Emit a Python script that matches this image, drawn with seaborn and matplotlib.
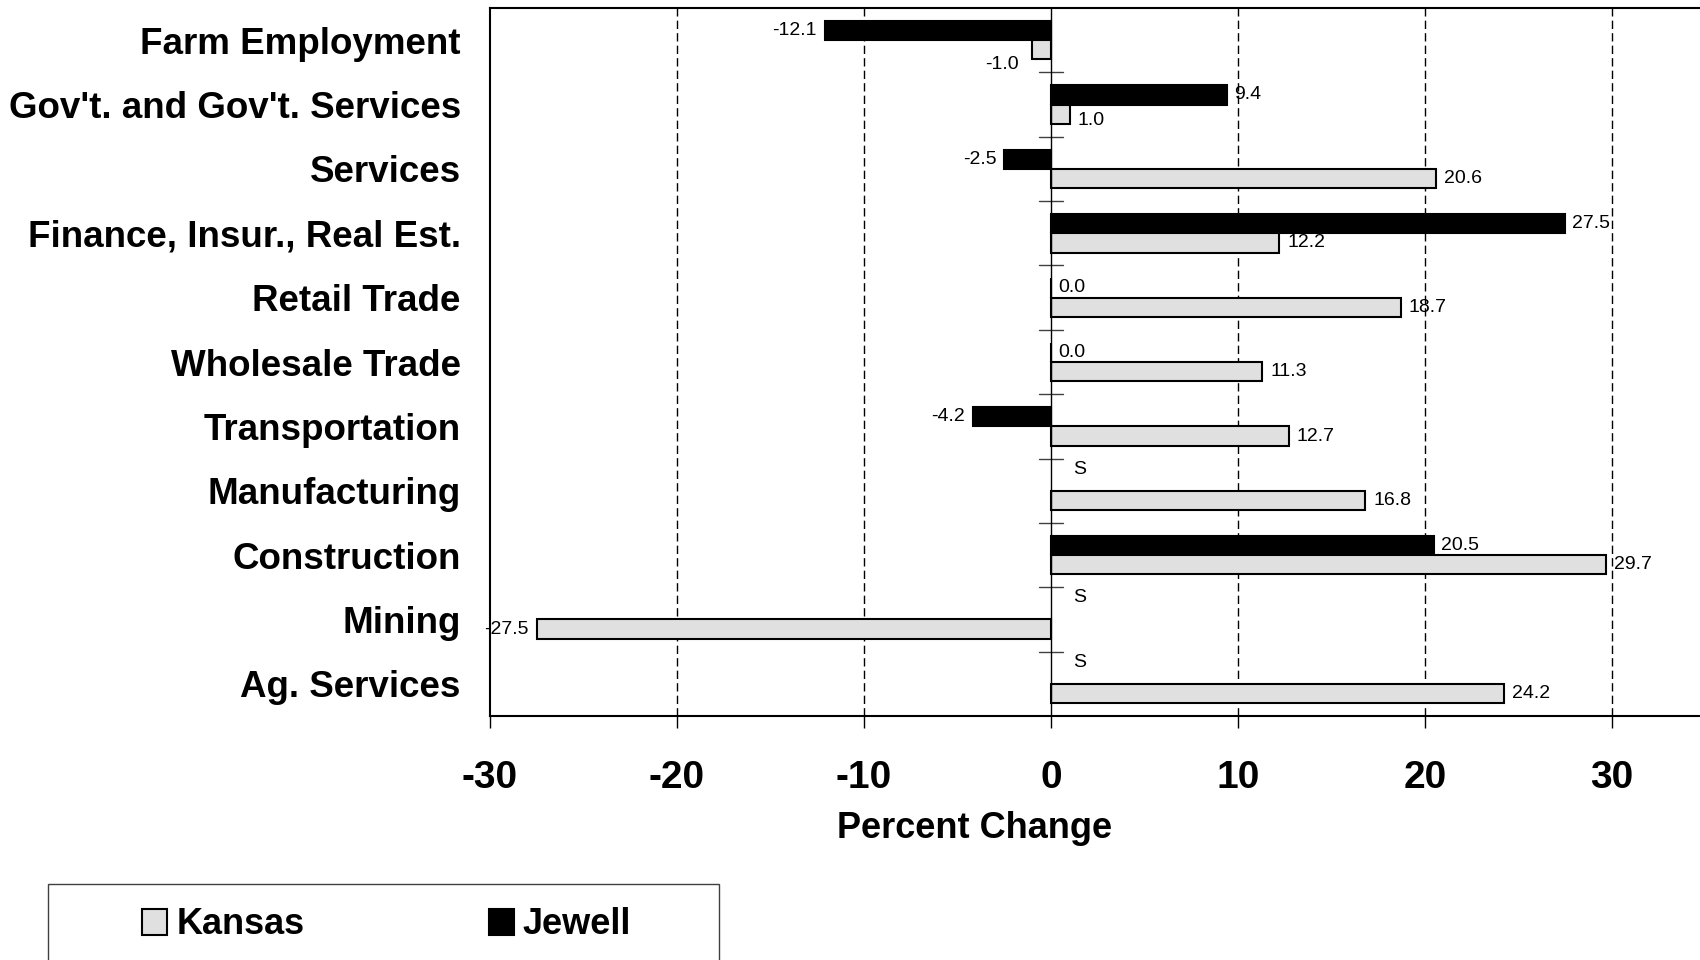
import matplotlib
matplotlib.use("Agg")
import matplotlib.pyplot as plt
import seaborn as sns
import pandas as pd
import numpy as np
from matplotlib.patches import Patch, Rectangle

# ---------------- data ----------------
categories = ["Farm Employment", "Gov't. and Gov't. Services", "Services",
              "Finance, Insur., Real Est.", "Retail Trade", "Wholesale Trade",
              "Transportation", "Manufacturing", "Construction", "Mining",
              "Ag. Services"]
kansas = [-1.0, 1.0, 20.6, 12.2, 18.7, 11.3, 12.7, 16.8, 29.7, -27.5, 24.2]
jewell = [-12.1, 9.4, -2.5, 27.5, 0.0, 0.0, -4.2, None, 20.5, None, None]
series_names = ["Kansas", "Jewell"]
x_ticks = [-30, -20, -10, 0, 10, 20, 30]
x_label = "Percent Change"
suppressed_label = "S"

# ---------------- style ----------------
sns.set_style("white")
plt.rcParams["font.family"] = ["Liberation Sans", "DejaVu Sans"]
plt.rcParams["text.color"] = "black"
plt.rcParams["xtick.color"] = "black"
plt.rcParams["ytick.color"] = "black"
plt.rcParams["axes.labelcolor"] = "black"

colors = {"Kansas": "#e0e0e0", "Jewell": "#000000"}

rows = []
for c, k, j in zip(categories, kansas, jewell):
    rows.append({"category": c, "series": "Kansas", "value": np.nan if k is None else k})
    rows.append({"category": c, "series": "Jewell", "value": np.nan if j is None else j})
df = pd.DataFrame(rows).dropna()

W, H = 1700, 960
fig = plt.figure(figsize=(W / 100, H / 100), dpi=100)
ax = fig.add_axes([490 / W, 1 - 716 / H, (W - 490) / W, (716 - 8) / H])

sns.barplot(data=df, x="value", y="category", hue="series", order=categories,
            hue_order=["Jewell", "Kansas"], palette=colors, orient="h",
            width=0.6, edgecolor="black", linewidth=1.5, errorbar=None,
            saturation=1, legend=False, ax=ax, zorder=3)

n = len(categories)
ax.set_ylim(n - 0.5, -0.5)
ax.set_xlim(-30, 34.7)

# grid / zero line
for t in x_ticks:
    if t == 0:
        ax.axvline(t, color="black", lw=1.0, zorder=4)
    elif t != x_ticks[0]:
        ax.axvline(t, color="black", lw=1.0, ls=(0, (6, 3)), zorder=1)

# category separators on the zero line
for i in range(n - 1):
    ax.plot([-0.65, 0.65], [i + 0.5, i + 0.5], color="#404040", lw=1, zorder=2)

# value labels
lab_kw = dict(textcoords="offset pixels", fontsize=14, color="black", zorder=5)
for i, (k, j) in enumerate(zip(kansas, jewell)):
    yj, yk = i - 0.15, i + 0.15
    if j is None:
        ax.annotate(suppressed_label, xy=(0, yj), xytext=(29, 12), ha="center", va="center", **lab_kw)
    elif j >= 0:
        ax.annotate(f"{j:.1f}", xy=(j, yj), xytext=(7, 0), ha="left", va="center", **lab_kw)
    else:
        ax.annotate(f"{j:.1f}", xy=(j, yj), xytext=(-8, 0), ha="right", va="center", **lab_kw)
    if k >= 0:
        dy = -6 if abs(k) < 2 else 0
        ax.annotate(f"{k:.1f}", xy=(k, yk), xytext=(8, dy), ha="left", va="center", **lab_kw)
    else:
        if abs(k) < 2:
            ax.annotate(f"{k:.1f}", xy=(k, yk), xytext=(-14, -15), ha="right", va="center", **lab_kw)
        else:
            ax.annotate(f"{k:.1f}", xy=(k, yk), xytext=(-8, 0), ha="right", va="center", **lab_kw)

# axes cosmetics
ax.set_xticks(x_ticks)
ax.set_xticklabels([f"{t:d}" for t in x_ticks])
ax.tick_params(axis="x", bottom=True, direction="out", length=8.6, width=1,
               pad=23, labelsize=28, color="black", labelcolor="black")
ax.tick_params(axis="y", length=0, pad=21, labelsize=26.5, labelcolor="black")
for lbl in ax.get_xticklabels() + ax.get_yticklabels():
    lbl.set_fontweight("bold")
ax.set_xlabel("")
ax.set_ylabel("")
for s in ["top", "left", "bottom"]:
    ax.spines[s].set_color("black")
    ax.spines[s].set_linewidth(1.5)
ax.spines["right"].set_visible(False)
ax.grid(False)

ax.text((975 - 490) / (W - 490), (716 - 828) / (716 - 8), x_label,
        transform=ax.transAxes, ha="center", va="center",
        fontsize=26, fontweight="bold", color="black")

# legend
handles = [Patch(facecolor=colors[s], edgecolor="black", linewidth=1.5, label=s)
           for s in series_names]
leg = fig.legend(handles=handles, ncol=2, loc="center left",
                 bbox_to_anchor=(142 / W, 1 - 925 / H), frameon=False,
                 prop=dict(weight="bold", size=26), handlelength=0.7, handleheight=0.7,
                 handletextpad=0.25, columnspacing=5.1, borderpad=0, borderaxespad=0)
for t in leg.get_texts():
    t.set_color("black")
fig.add_artist(Rectangle((48 / W, -0.05), (719 - 48) / W, 0.05 + (H - 884) / H,
                         transform=fig.transFigure, fill=False,
                         edgecolor="#404040", linewidth=1))

fig.savefig("out.png", dpi=100)
